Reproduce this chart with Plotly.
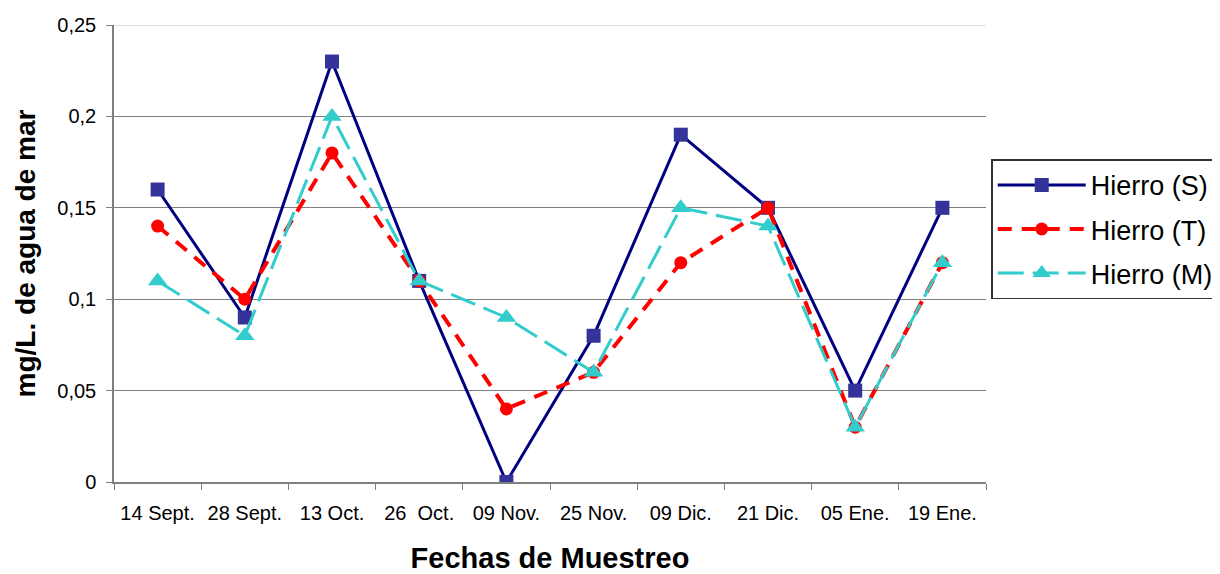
import plotly.graph_objects as go

categories = ["14 Sept.", "28 Sept.", "13 Oct.", "26  Oct.", "09 Nov.", "25 Nov.",
              "09 Dic.", "21 Dic.", "05 Ene.", "19 Ene."]
hierro_s = [0.16, 0.09, 0.23, 0.11, 0.00, 0.08, 0.19, 0.15, 0.05, 0.15]
hierro_t = [0.14, 0.10, 0.18, 0.11, 0.04, 0.06, 0.12, 0.15, 0.03, 0.12]
hierro_m = [0.11, 0.08, 0.20, 0.11, 0.09, 0.06, 0.15, 0.14, 0.03, 0.12]
y_ticks = [0, 0.05, 0.1, 0.15, 0.2, 0.25]

font = "Liberation Sans, Arial, sans-serif"

fig = go.Figure()
fig.add_trace(go.Scatter(x=categories, y=hierro_s, name="Hierro (S)", mode="lines+markers",
                         legendgroup="s",
                         line=dict(color="#000080", width=3),
                         marker=dict(symbol="square", size=14, color="#333399")))
fig.add_trace(go.Scatter(x=categories, y=hierro_t, name="Hierro (T)", mode="lines+markers",
                         legendgroup="t",
                         line=dict(color="#FF0000", width=4, dash="14px,10px"),
                         marker=dict(symbol="circle", size=13, color="#FF0000")))
fig.add_trace(go.Scatter(x=categories, y=hierro_m, name="Hierro (M)", mode="lines+markers",
                         legendgroup="m",
                         line=dict(color="#33CCCC", width=3, dash="26px,9px"),
                         marker=dict(symbol="triangle-up", size=17, color="#33CCCC")))

fig.add_shape(type="line", xref="paper", yref="y", x0=0, x1=1, y0=0.25, y1=0.25,
              line=dict(color="#E0E0E0", width=2), layer="above")

fig.update_layout(
    width=1212, height=566,
    margin=dict(l=106, r=234, t=17, b=92, autoexpand=False),
    paper_bgcolor="white", plot_bgcolor="white",
    separators=",.",
    font=dict(family=font, color="black", size=20),
    showlegend=True,
    legend=dict(x=1.006, y=0.706, xanchor="left", yanchor="top",
                bordercolor="#333333", borderwidth=1.5, traceorder="grouped",
                font=dict(size=27, family=font), tracegroupgap=6, itemwidth=88),
    xaxis=dict(type="category", range=[-0.5, 9.5], showgrid=False, automargin=True,
               showline=True, linecolor="#808080", linewidth=1.5,
               ticks="outside", tickson="boundaries", ticklen=6, tickcolor="#808080",
               tickfont=dict(size=20), ticklabelstandoff=12,
               title=dict(text="<b>Fechas de Muestreo</b>", font=dict(size=29), standoff=30)),
    yaxis=dict(range=[0, 0.25], tickvals=y_ticks, showgrid=True, gridcolor="#808080",
               gridwidth=1, showline=True, linecolor="#808080", linewidth=1.5, automargin=False,
               ticks="outside", ticklen=6, tickcolor="#808080",
               tickfont=dict(size=20), zeroline=False, ticklabelstandoff=6,
               title=dict(text="<b>mg/L. de agua de mar</b>", font=dict(size=28), standoff=14)),
)

fig.write_html("out.html")
